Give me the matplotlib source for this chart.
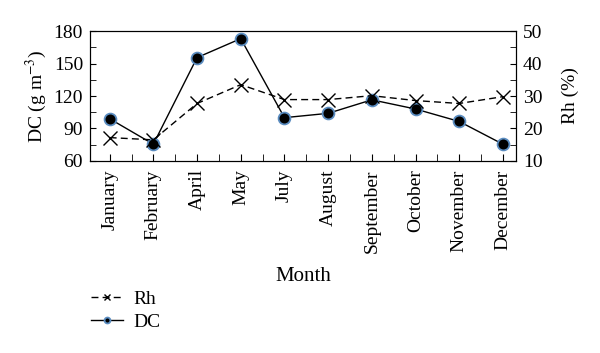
import matplotlib
matplotlib.use("Agg")
import matplotlib.pyplot as plt
from matplotlib.ticker import MultipleLocator

plt.rcParams['font.family'] = ['Liberation Serif', 'DejaVu Serif']
plt.rcParams['mathtext.fontset'] = 'stix'

months = ['January', 'February', 'April', 'May', 'July', 'August',
          'September', 'October', 'November', 'December']
dc = [99, 75.5, 155.5, 173, 100, 104, 116.5, 108, 96.5, 75.5]
rh = [17.2, 16.5, 27.7, 33.5, 28.9, 28.9, 30.1, 28.6, 27.7, 29.8]

fs = 14

fig = plt.figure(figsize=(6, 3.53), dpi=100)
ax = fig.add_axes([0.15, 0.544, 0.71, 0.368])
ax2 = ax.twinx()

x = list(range(len(months)))
dc_line, = ax.plot(x, dc, '-', color='black', lw=1.0, marker='o', ms=8.5,
                   mfc='black', mec='#5a8cc0', mew=1.3, zorder=3, label='DC')
rh_line, = ax2.plot(x, rh, '--', color='black', lw=1.0, marker='x', ms=10,
                    mew=1.0, dashes=(5, 3), label='Rh')

ax.set_xlim(-0.45, 9.3)
ax.set_ylim(60, 180)
ax2.set_ylim(10, 50)
ax.set_yticks([60, 90, 120, 150, 180])
ax.yaxis.set_minor_locator(MultipleLocator(15))
ax2.set_yticks([10, 20, 30, 40, 50])
ax2.yaxis.set_minor_locator(MultipleLocator(5))
ax.set_xticks(x)
ax.set_xticks([i + 0.5 for i in x[:-1]], minor=True)
ax.set_xticklabels(months, rotation=90)

ax.tick_params(axis='both', which='both', direction='in', labelsize=fs)
ax.tick_params(axis='y', which='both', length=4, pad=5)
ax.tick_params(axis='x', which='both', length=5, pad=6)
ax2.tick_params(axis='y', which='both', direction='in', length=4, labelsize=fs, pad=5)

ax.set_ylabel('DC (g m$^{-3}$)', fontsize=fs, labelpad=3)
ax2.set_ylabel('Rh (%)', fontsize=fs, labelpad=14)
ax.set_xlabel('Month', fontsize=15, labelpad=10)

leg = fig.legend(handles=[rh_line, dc_line], loc='upper left',
                 frameon=False, fontsize=14, handlelength=1.65, handletextpad=0.5,
                 labelspacing=0.28, markerscale=0.5, borderpad=0.0,
                 borderaxespad=0.0)
leg.set_bbox_to_anchor((0.152, 0.178), transform=fig.transFigure)

fig.savefig('out.png', dpi=100)
